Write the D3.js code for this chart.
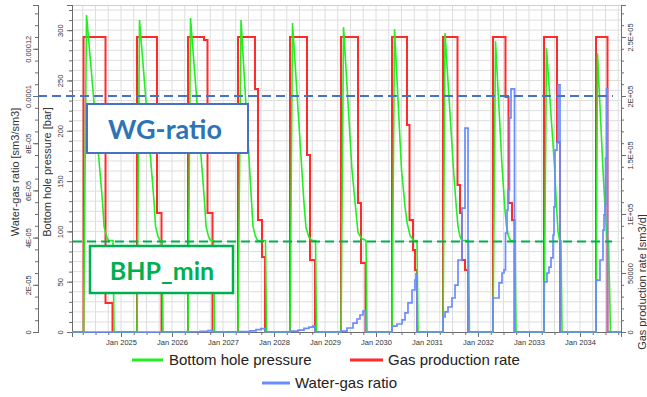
<!DOCTYPE html>
<html><head><meta charset="utf-8">
<script src="https://cdn.jsdelivr.net/npm/d3@7"></script>
<style>body{margin:0;background:#fff} svg{display:block;font-family:"Liberation Sans",Arial,sans-serif}</style>
</head><body><svg id="c" width="647" height="397"></svg>
<script>
// ---------- data ----------
const yearTicks = [2025,2026,2027,2028,2029,2030,2031,2032,2033,2034];
const bhpTicks = [0,50,100,150,200,250,300];
const wgrTicks = [0,2e-5,4e-5,6e-5,8e-5,1e-4,1.2e-4];
const wgrTickLabels = ["0","2E-05","4E-05","6E-05","8E-05","0.0001","0.00012"];
const gasTicks = [0,50000,100000,150000,200000,250000];
const gasTickLabels = ["0","50000","1E+05","1.5E+05","2E+05","2.5E+05"];
const bhpMin = 90;        // bar
const wgrLimit = 1e-4;    // sm3/sm3
const seriesNames = ["Bottom hole pressure","Gas production rate","Water-gas ratio"];

// Bottom hole pressure [bar]  (decimal year, value)
const bhpSeries = [
 [2024.039,0],
 [2024.265,0],[2024.324,315],[2024.637,130],[2024.667,105],[2024.716,95],[2024.755,91],[2024.843,91],[2024.863,0],
 [2025.314,0],[2025.363,310],[2025.647,130],[2025.677,105],[2025.725,95],[2025.765,91],[2025.804,91],[2025.824,0],
 [2026.314,0],[2026.363,312],[2026.637,130],[2026.667,105],[2026.716,95],[2026.755,91],[2026.814,91],[2026.833,0],
 [2027.294,0],[2027.353,310],[2027.559,130],[2027.588,105],[2027.637,95],[2027.676,91],[2027.833,91],[2027.853,0],
 [2028.314,0],[2028.363,307],[2028.588,128],[2028.627,104],[2028.686,94],[2028.745,91],[2028.814,91],[2028.833,0],
 [2029.314,0],[2029.363,303],[2029.529,161],[2029.618,114],[2029.647,99],[2029.716,93],[2029.804,91],[2029.824,0],
 [2030.314,0],[2030.363,301],[2030.5,161],[2030.569,125],[2030.608,109],[2030.667,96],[2030.735,91],[2030.804,91],[2030.824,0],
 [2031.314,0],[2031.353,297],[2031.52,161],[2031.578,122],[2031.608,105],[2031.647,95],[2031.686,91],[2031.814,91],[2031.833,0],
 [2032.294,0],[2032.343,289],[2032.471,165],[2032.529,121],[2032.559,105],[2032.598,95],[2032.637,91],[2032.725,91],[2032.745,0],
 [2033.294,0],[2033.343,282],[2033.5,165],[2033.539,125],[2033.569,100],[2033.598,92],[2033.627,91],[2033.647,0],
 [2034.314,0],[2034.343,277],[2034.451,161],[2034.49,125],[2034.52,100],[2034.539,92],[2034.559,91],[2034.598,0],
 [2034.804,0]
];
// Gas production rate [sm3/d]  (step: value holds until next point)
const gasSeries = [
 [2024.039,0],
 [2024.265,250000],[2024.696,24600],[2024.833,0],
 [2025.314,250000],[2025.706,100900],[2025.794,0],
 [2026.314,250000],[2026.627,247500],[2026.696,100900],[2026.794,0],
 [2027.294,250000],[2027.627,205900],[2027.686,94900],[2027.765,63600],[2027.824,0],
 [2028.314,250000],[2028.647,150000],[2028.706,61000],[2028.804,0],
 [2029.314,250000],[2029.647,109300],[2029.706,58500],[2029.794,0],
 [2030.314,250000],[2030.608,175400],[2030.657,94900],[2030.725,69500],[2030.765,52500],[2030.804,0],
 [2031.314,250000],[2031.598,124600],[2031.647,100900],[2031.686,61000],[2031.745,52500],[2031.804,0],
 [2032.294,250000],[2032.539,199200],[2032.598,109300],[2032.667,94900],[2032.716,0],
 [2033.294,250000],[2033.549,161000],[2033.608,0],
 [2034.314,250000],[2034.539,0],
 [2034.804,0]
];
// Water-gas ratio [sm3/sm3]  (step)
const wgrSeries = [
 [2024.039,0],
 [2026.314,1e-7],[2026.549,3e-7],[2026.706,6e-7],[2026.794,0],
 [2027.294,2e-7],[2027.529,5e-7],[2027.647,1e-6],[2027.745,1.4e-6],[2027.824,0],
 [2028.314,4e-7],[2028.471,8e-7],[2028.588,1.5e-6],[2028.686,2.1e-6],[2028.765,2.6e-6],[2028.804,0],
 [2029.314,4e-7],[2029.431,1.7e-6],[2029.549,3.8e-6],[2029.627,5.5e-6],[2029.686,7.2e-6],[2029.745,8.9e-6],[2029.794,0],
 [2030.314,2.5e-6],[2030.412,3.4e-6],[2030.51,5.1e-6],[2030.569,8.1e-6],[2030.627,1.23e-5],[2030.706,1.78e-5],[2030.765,2.2e-5],[2030.784,2.46e-5],[2030.804,0],
 [2031.314,6.4e-6],[2031.353,8.5e-6],[2031.412,1.06e-5],[2031.49,1.44e-5],[2031.549,1.99e-5],[2031.608,3.05e-5],[2031.686,5.25e-5],[2031.745,8.64e-5],[2031.804,0],
 [2032.294,1.44e-5],[2032.412,2.08e-5],[2032.471,2.5e-5],[2032.51,2.63e-5],[2032.539,4.19e-5],[2032.569,5.17e-5],[2032.588,6.02e-5],[2032.618,9.07e-5],[2032.647,1.03e-4],[2032.716,0],
 [2033.294,2.12e-5],[2033.353,2.5e-5],[2033.392,2.75e-5],[2033.431,3.14e-5],[2033.471,4.11e-5],[2033.49,5.3e-5],[2033.51,7.71e-5],[2033.549,8.01e-5],[2033.569,1.047e-4],[2033.608,0],
 [2034.314,2.2e-5],[2034.392,3.05e-5],[2034.451,4.32e-5],[2034.471,4.96e-5],[2034.49,5.38e-5],[2034.5,7.37e-5],[2034.52,1.03e-4],[2034.539,0],
 [2034.804,0]
];

// ---------- layout ----------
const L = 72, R = 621, T = 5, B = 332;
const svg = d3.select("#c");
const x  = d3.scaleLinear().domain([2024.039, 2034.804]).range([L, R]);
const yB = d3.scaleLinear().domain([0, 325]).range([B, T]);
const yG = d3.scaleLinear().domain([0, 277100]).range([B, T]);
const yW = d3.scaleLinear().domain([0, 1.3856e-4]).range([B, T]);

const axisCol = "#6d6d6d", txtCol = "#333";

// grid
const g = svg.append("g");
g.selectAll(".vg").data(d3.range(2024.25, 2034.8, 0.25)).join("line")
  .attr("x1", d => x(d)).attr("x2", d => x(d)).attr("y1", T).attr("y2", B)
  .attr("stroke", "#dedede").attr("stroke-width", 1);
g.selectAll(".hg").data(d3.range(10, 330, 10)).join("line")
  .attr("x1", L).attr("x2", R).attr("y1", d => yB(d)).attr("y2", d => yB(d))
  .attr("stroke", "#dedede").attr("stroke-width", 1);
g.append("line").attr("x1", L).attr("x2", R).attr("y1", T+0.5).attr("y2", T+0.5).attr("stroke", "#cfcfcf");

function styleAxis(sel){
  sel.select(".domain").attr("stroke", axisCol);
  sel.selectAll(".tick line").attr("stroke", axisCol);
  sel.selectAll("text").attr("fill", txtCol).attr("font-size", 7.5).attr("font-family", '"Liberation Sans",Arial,sans-serif');
}
function rotLabels(sel, off){
  sel.selectAll(".tick text").attr("transform", "rotate(-90)")
    .attr("x", 0).attr("y", off).attr("dy", "0.35em").attr("text-anchor", "middle");
}

// x axis
const xMinor = svg.append("g").attr("transform", `translate(0,${B})`)
  .call(d3.axisBottom(x).tickValues(d3.range(2024.25, 2034.8, 0.25)).tickSize(3).tickFormat(""));
styleAxis(xMinor);
const xAx = svg.append("g").attr("transform", `translate(0,${B})`)
  .call(d3.axisBottom(x).tickValues(yearTicks).tickSize(5).tickPadding(3).tickFormat(d => "Jan " + d));
styleAxis(xAx);

// BHP axis (inner left)
const bMinor = svg.append("g").attr("transform", `translate(${L},0)`)
  .call(d3.axisLeft(yB).tickValues(d3.range(0, 330, 10)).tickSize(3).tickFormat(""));
styleAxis(bMinor);
const bAx = svg.append("g").attr("transform", `translate(${L},0)`)
  .call(d3.axisLeft(yB).tickValues(bhpTicks).tickSize(5).tickFormat(d3.format("d")));
styleAxis(bAx); rotLabels(bAx, -12);

// WGR axis (outer left)
const WX = 38;
const wMinor = svg.append("g").attr("transform", `translate(${WX},0)`)
  .call(d3.axisLeft(yW).tickValues(d3.range(0, 1.38e-4, 5e-6)).tickSize(3).tickFormat(""));
styleAxis(wMinor);
const wAx = svg.append("g").attr("transform", `translate(${WX},0)`)
  .call(d3.axisLeft(yW).tickValues(wgrTicks).tickSize(5).tickFormat((d,i) => wgrTickLabels[i]));
styleAxis(wAx); rotLabels(wAx, -10);

// Gas axis (right)
const gMinor = svg.append("g").attr("transform", `translate(${R},0)`)
  .call(d3.axisRight(yG).tickValues(d3.range(0, 277000, 10000)).tickSize(3).tickFormat(""));
styleAxis(gMinor);
const gAx = svg.append("g").attr("transform", `translate(${R},0)`)
  .call(d3.axisRight(yG).tickValues(gasTicks).tickSize(5).tickFormat((d,i) => gasTickLabels[i]));
styleAxis(gAx); rotLabels(gAx, 9);

// axis titles
function vTitle(txt, cx, cy){
  svg.append("text").attr("transform", `translate(${cx},${cy}) rotate(-90)`)
    .attr("text-anchor", "middle").attr("dy", "0.35em")
    .attr("font-size", 11).attr("fill", txtCol).text(txt);
}
vTitle("Water-gas ratio [sm3/sm3]", 15, 172);
vTitle("Bottom hole pressure [bar]", 47, 172);
vTitle("Gas production rate [sm3/d]", 642, 282);

// series
const lineB = d3.line().x(d => x(d[0])).y(d => yB(d[1]));
const lineG = d3.line().x(d => x(d[0])).y(d => yG(d[1])).curve(d3.curveStepAfter);
const lineW = d3.line().x(d => x(d[0])).y(d => yW(d[1])).curve(d3.curveStepAfter);
const cRed = "#ff2a2a", cGreen = "#22ee22", cBlue = "#6a8cff";
svg.append("path").attr("d", lineG(gasSeries)).attr("fill", "none").attr("stroke", cRed).attr("stroke-width", 2).attr("stroke-linejoin","miter");
svg.append("path").attr("d", lineB(bhpSeries)).attr("fill", "none").attr("stroke", cGreen).attr("stroke-width", 1.6);
svg.append("path").attr("d", lineW(wgrSeries)).attr("fill", "none").attr("stroke", cBlue).attr("stroke-width", 1.7);

// threshold lines
svg.append("line").attr("x1", WX).attr("x2", 613).attr("y1", yW(wgrLimit)).attr("y2", yW(wgrLimit))
  .attr("stroke", "#4472c4").attr("stroke-width", 2).attr("stroke-dasharray", "9,5");
svg.append("line").attr("x1", L+1).attr("x2", 612).attr("y1", yB(bhpMin)).attr("y2", yB(bhpMin))
  .attr("stroke", "#00b050").attr("stroke-width", 2).attr("stroke-dasharray", "9,5");

// annotation boxes
svg.append("rect").attr("x", 87).attr("y", 104).attr("width", 161).attr("height", 49)
  .attr("fill", "#fff").attr("stroke", "#4472c4").attr("stroke-width", 2);
svg.append("text").attr("x", 165).attr("y", 139).attr("text-anchor", "middle")
  .attr("font-family", "Lato,Carlito,sans-serif").attr("font-weight", "bold").attr("font-size", 27)
  .attr("fill", "#2e74b5").text("WG-ratio");
svg.append("rect").attr("x", 90).attr("y", 246).attr("width", 143).attr("height", 47)
  .attr("fill", "#fff").attr("stroke", "#00b050").attr("stroke-width", 2.5);
svg.append("text").attr("x", 162).attr("y", 280).attr("text-anchor", "middle")
  .attr("font-family", "Lato,Carlito,sans-serif").attr("font-weight", "bold").attr("font-size", 25)
  .attr("fill", "#00b050").text("BHP_min");

// legend
const legend = [
  {name: seriesNames[0], color: cGreen, x1: 132, x2: 163, y: 360, tx: 169},
  {name: seriesNames[1], color: cRed,   x1: 350, x2: 383, y: 360, tx: 388},
  {name: seriesNames[2], color: cBlue,  x1: 262, x2: 290, y: 383, tx: 295}
];
const lg = svg.append("g").selectAll("g").data(legend).join("g");
lg.append("line").attr("x1", d => d.x1).attr("x2", d => d.x2).attr("y1", d => d.y).attr("y2", d => d.y)
  .attr("stroke", d => d.color).attr("stroke-width", 3);
lg.append("text").attr("x", d => d.tx).attr("y", d => d.y).attr("dy", "0.35em")
  .attr("font-size", 15).attr("fill", "#222").text(d => d.name);
</script>
</body></html>
